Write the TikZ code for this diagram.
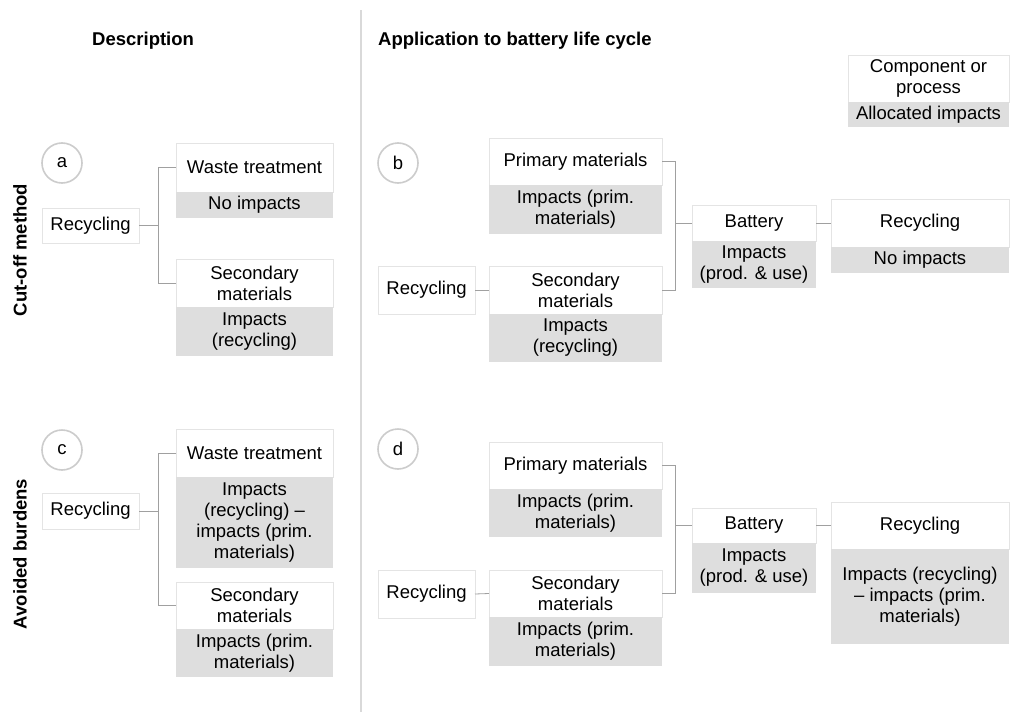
\documentclass[tikz,border=0pt]{standalone}
\usepackage{fontspec}
\setmainfont{Liberation Sans}
\usetikzlibrary{positioning}
\definecolor{impgray}{RGB}{222,222,222}
\definecolor{boxline}{RGB}{228,228,228}
\definecolor{linegray}{RGB}{160,160,160}
\def\lab{\fontsize{18.5}{21}\selectfont}
\tikzset{
  comp/.style={draw=boxline, fill=white, line width=0.8pt, inner sep=0pt, outer sep=0pt, align=center, font=\lab},
  imp/.style={fill=impgray, inner sep=0pt, outer sep=0pt, align=center, font=\lab},
  conn/.style={draw=linegray, line width=0.8pt},
  tag/.style={circle, draw=black!20, line width=1.6pt, minimum size=40pt, inner sep=0pt, font=\lab},
  head/.style={anchor=west, inner sep=0pt, font=\lab\bfseries},
}

\begin{document}
\begin{tikzpicture}[x=1pt,y=-1pt]
	%%%%% START %%%%%
	\useasboundingbox[fill=white] (0,0) rectangle (1015,712);
	
	\node[head] (hdesc) at (92,41) {Description};
	\node[head] (happ) at (378,41) {Application to battery life cycle};
	\draw[draw=black!15, line width=1.2pt] (361,10) -- (361,712);
	
	\node[head, anchor=center, rotate=90] (rcut) at (20,250) {Cut-off method};
	\node[head, anchor=center, rotate=90] (ravo) at (20,554) {Avoided burdens};
	
	% legend
	\node[comp, minimum width=161, minimum height=47] (lgc) at (928.5,78.5) {Component or\\process};
	\node[imp, minimum width=161, minimum height=25, below=0pt of lgc] (lgi) {Allocated impacts};
	
	% a
	\node[tag] (ta) at (62,163) {a};
	\node[comp, minimum width=97, minimum height=35] (arec) at (90.5,225.5) {Recycling};
	\node[comp, minimum width=157, minimum height=49] (awt) at (254.5,167.5) {Waste treatment};
	\node[imp, minimum width=157, minimum height=26, below=0pt of awt] (awti) {No impacts};
	\node[comp, minimum width=157, minimum height=48] (asm) at (254.5,283) {Secondary\\materials};
	\node[imp, minimum width=157, minimum height=49, below=0pt of asm] (asmi) {Impacts\\(recycling)};
	\draw[conn] (awt.west) -- ++(-18,0) coordinate (aj) |- (asm.west);
	\draw[conn] (arec.east) -- (arec.east -| aj);
	
	% b
	\node[tag] (tb) at (398,163) {b};
	\node[comp, minimum width=173, minimum height=47] (bpm) at (575.5,161.5) {Primary materials};
	\node[imp, minimum width=173, minimum height=49, below=0pt of bpm] (bpmi) {Impacts (prim.\\materials)};
	\node[comp, minimum width=97, minimum height=48] (brc0) at (426.5,290) {Recycling};
	\node[comp, minimum width=173, minimum height=48] (bsm) at (575.5,290) {Secondary\\materials};
	\node[imp, minimum width=173, minimum height=48, below=0pt of bsm] (bsmi) {Impacts\\(recycling)};
	\node[comp, minimum width=124, minimum height=36] (bbat) at (754,223) {Battery};
	\node[imp, minimum width=124, minimum height=47, below=0pt of bbat] (bbati) {Impacts\\(prod. \& use)};
	\node[comp, minimum width=178, minimum height=48] (brc) at (920,223) {Recycling};
	\node[imp, minimum width=178, minimum height=26, below=0pt of brc] (brci) {No impacts};
	\draw[conn] (bpm.east) -- ++(13,0) coordinate (bj) |- (bsm.east);
	\draw[conn] (bj |- bbat.west) -- (bbat.west);
	\draw[conn] (brc0.east) -- (bsm.west);
	\draw[conn] (bbat.east) -- (brc.west);
	
	% c
	\node[tag] (tc) at (62,450) {c};
	\node[comp, minimum width=97, minimum height=36] (crec) at (90.5,511) {Recycling};
	\node[comp, minimum width=157, minimum height=48] (cwt) at (254.5,453) {Waste treatment};
	\node[imp, minimum width=157, minimum height=91, below=0pt of cwt] (cwti) {Impacts\\(recycling) --\\impacts (prim.\\materials)};
	\node[comp, minimum width=157, minimum height=47] (csm) at (254.5,605.5) {Secondary\\materials};
	\node[imp, minimum width=157, minimum height=48, below=0pt of csm] (csmi) {Impacts (prim.\\materials)};
	\draw[conn] (cwt.west) -- ++(-18,0) coordinate (cj) |- (csm.west);
	\draw[conn] (crec.east) -- (crec.east -| cj);
	
	% d
	\node[tag] (td) at (398,449) {d};
	\node[comp, minimum width=173, minimum height=47] (dpm) at (575.5,465.5) {Primary materials};
	\node[imp, minimum width=173, minimum height=48, below=0pt of dpm] (dpmi) {Impacts (prim.\\materials)};
	\node[comp, minimum width=97, minimum height=48] (drc0) at (426.5,594) {Recycling};
	\node[comp, minimum width=173, minimum height=47] (dsm) at (575.5,593.5) {Secondary\\materials};
	\node[imp, minimum width=173, minimum height=49, below=0pt of dsm] (dsmi) {Impacts (prim.\\materials)};
	\node[comp, minimum width=124, minimum height=35] (dbat) at (754,525.5) {Battery};
	\node[imp, minimum width=124, minimum height=50, below=0pt of dbat] (dbati) {Impacts\\(prod. \& use)};
	\node[comp, minimum width=178, minimum height=47] (drc) at (920,525.5) {Recycling};
	\node[imp, minimum width=178, minimum height=95, below=0pt of drc] (drci) {Impacts (recycling)\\-- impacts (prim.\\materials)};
	\draw[conn] (dpm.east) -- ++(13,0) coordinate (dj) |- (dsm.east);
	\draw[conn] (dj |- dbat.west) -- (dbat.west);
	\draw[conn] (drc0.east) -- (dsm.west);
	\draw[conn] (dbat.east) -- (drc.west);
	
	%%%%% END %%%%%
\end{tikzpicture}
\end{document}
